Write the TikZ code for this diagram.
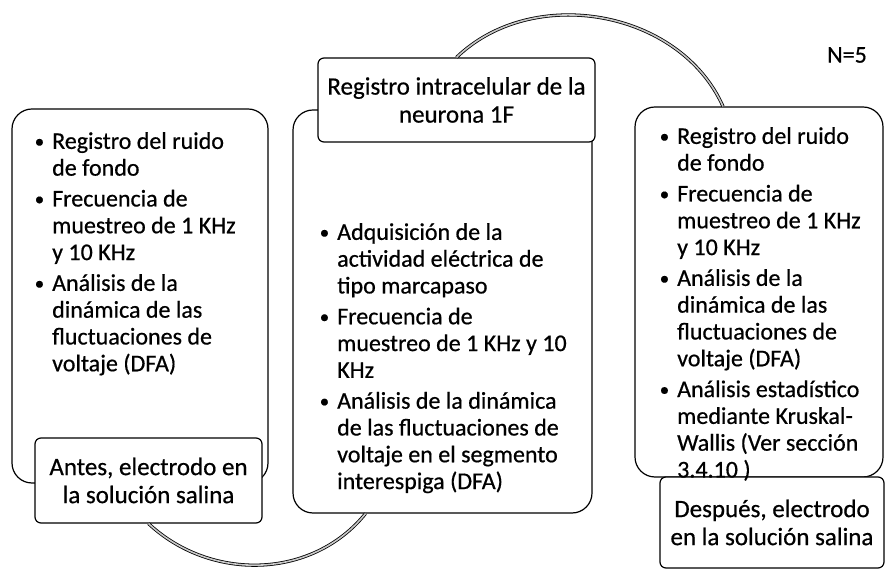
\documentclass[tikz,border=0pt]{standalone}
\usepackage{fontspec}
\usepackage{tikz}
\usepackage{xcolor}
\usetikzlibrary{positioning, calc}
\setmainfont{Carlito}[FakeBold=0.6]
\definecolor{arcFill}{RGB}{200, 200, 200}
\newcommand{\bul}{\llap{{\fontsize{19}{19}\selectfont\raisebox{1.2pt}{\textbullet}}\hspace{8pt}}}

\begin{document}
\begin{tikzpicture}[x=1pt, y=1pt,
    bigbox/.style={draw, line width=1.2pt, rounded corners=20pt},
    labelbox/.style={draw, fill=white, line width=1.2pt, rounded corners=6pt, align=center, inner sep=0pt, font=\fontsize{25}{28}\selectfont},
    itemtext/.style={anchor=north west, align=left, inner sep=0pt, font=\fontsize{24}{26.8}\selectfont},
    ringarc/.style={draw=black, line width=0.8pt, double=arcFill, double distance=1.6pt}]
                \useasboundingbox (0,0) rectangle (886,573);
                \node[bigbox, minimum width=256pt, minimum height=374pt] (b1) at (140,277) {};
                \node[bigbox, minimum width=299pt, minimum height=403pt] (b2) at (442.5,261.5) {};
                \node[bigbox, minimum width=248pt, minimum height=370pt] (b3) at (759,281) {};
                \node[labelbox, minimum width=227pt, minimum height=85pt] (l1) at (148.5,92.5) {Antes, electrodo en\\la solución salina};
                \node[labelbox, minimum width=277pt, minimum height=84pt] (l2) at (456.5,473) {Registro intracelular de la\\neurona 1F};
                \node[labelbox, minimum width=224pt, minimum height=91pt] (l3) at (772,50.5) {Después, electrodo\\en la solución salina};
                \node[itemtext] (t1) at (52,441) {\bul Registro del ruido\\de fondo\\[4pt]
                    \bul Frecuencia de\\muestreo de 1 KHz\\y 10 KHz\\[4pt]
                    \bul Análisis de la\\dinámica de las\\fluctuaciones de\\voltaje (DFA)};
                \node[itemtext] (t2) at (337,350) {\bul Adquisición de la\\actividad eléctrica de\\tipo marcapaso\\[4pt]
                    \bul Frecuencia de\\muestreo de 1 KHz y 10\\KHz\\[4pt]
                    \bul Análisis de la dinámica\\de las fluctuaciones de\\voltaje en el segmento\\interespiga (DFA)};
                \node[itemtext] (t3) at (677,446) {\bul Registro del ruido\\de fondo\\[4pt]
                    \bul Frecuencia de\\muestreo de 1 KHz\\y 10 KHz\\[4pt]
                    \bul Análisis de la\\dinámica de las\\fluctuaciones de\\voltaje (DFA)\\[4pt]
                    \bul Análisis estadístico\\mediante Kruskal-\\Wallis (Ver sección\\3.4.10 )};
                \node[font=\fontsize{24}{26}\selectfont] (n1) at (847,518) {N=5};
                \draw[ringarc] (l2.north) to[out=44, in=114] ([xshift=-36pt]b3.north);
                \draw[ringarc] (l1.south) to[out=-43, in=231] ([xshift=-77pt]b2.south);
            \end{tikzpicture}
\end{document}
